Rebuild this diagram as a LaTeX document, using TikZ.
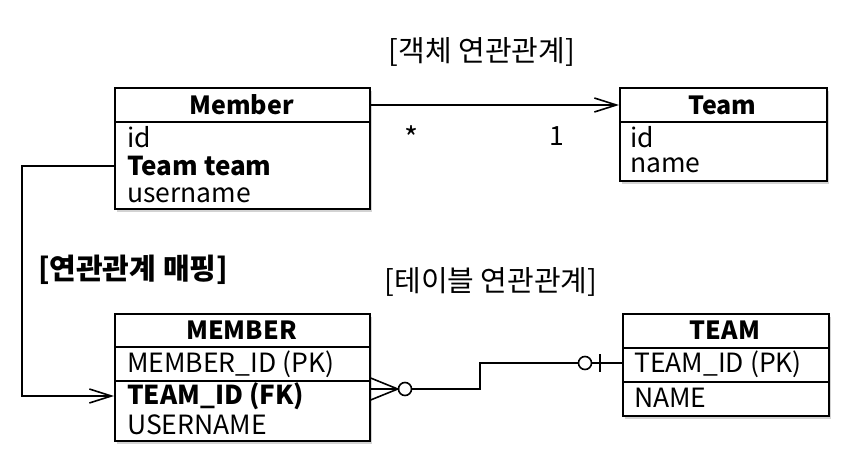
\documentclass[tikz,border=0pt]{standalone}
\usepackage{fontspec}
\setmainfont{Noto Sans CJK KR}
\usetikzlibrary{arrows.meta,shadows}
\begin{document}
\begin{tikzpicture}[x=1pt,y=-1pt,
  tbl/.style={draw, line width=1.6pt, fill=white, inner sep=0pt, anchor=north west,
    drop shadow={shadow xshift=2pt, shadow yshift=-3pt, opacity=0.35}},
  sep/.style={line width=1.6pt},
  row/.style={anchor=west, inner sep=0pt, font=\fontsize{26.5}{26.5}\selectfont},
  brow/.style={anchor=west, inner sep=0pt, font=\fontsize{26}{26}\selectfont\bfseries},
  head/.style={inner sep=0pt, font=\fontsize{25}{25}\selectfont\bfseries},
  lbl/.style={inner sep=0pt, font=\fontsize{29}{29}\selectfont},
  blbl/.style={inner sep=0pt, font=\fontsize{29}{29}\selectfont\bfseries},
  conn/.style={line width=1.6pt},
  barb/.style={-{Straight Barb[length=22pt,width=14pt,line width=1.6pt]}},
  ring/.style={circle, draw, line width=1.6pt, fill=white, minimum size=13pt, inner sep=0pt}
]
\useasboundingbox (0,0) rectangle (844,464);

% Member (object)
\node[tbl, minimum width=255pt, minimum height=121pt] (member) at (114,87) {};
\draw[sep] ([yshift=-35pt]member.north west) -- ([yshift=-35pt]member.north east);
\node[head] (memberh) at (241.5,105) {Member};
\node[row]  (mid)   at (127,137) {id};
\node[brow] (mteam) at (127,166) {Team team};
\node[row]  (muser) at (127,195) {username};

% Team (object)
\node[tbl, minimum width=207pt, minimum height=93pt] (team) at (619,87) {};
\draw[sep] ([yshift=-35pt]team.north west) -- ([yshift=-35pt]team.north east);
\node[head] (teamh) at (722.5,105) {Team};
\node[row] (tid)   at (630,137) {id};
\node[row] (tname) at (630,165) {name};

% MEMBER (table)
\node[tbl, minimum width=255pt, minimum height=127pt] (MEMBER) at (114,313) {};
\draw[sep] ([yshift=-34pt]MEMBER.north west) -- ([yshift=-34pt]MEMBER.north east);
\draw[sep] ([yshift=-68pt]MEMBER.north west) -- ([yshift=-68pt]MEMBER.north east);
\node[head] (MEMBERh) at (241.5,330) {MEMBER};
\node[row]  (Mid)   at (127,364) {MEMBER\_ID (PK)};
\node[brow] (Mfk)   at (127,396) {TEAM\_ID (FK)};
\node[row]  (Muser) at (127,425) {USERNAME};

% TEAM (table)
\node[tbl, minimum width=206pt, minimum height=102pt] (TEAM) at (622,313) {};
\draw[sep] ([yshift=-35pt]TEAM.north west) -- ([yshift=-35pt]TEAM.north east);
\draw[sep] ([yshift=-69pt]TEAM.north west) -- ([yshift=-69pt]TEAM.north east);
\node[head] (TEAMh) at (725,330) {TEAM};
\node[row] (Tid)   at (634,364) {TEAM\_ID (PK)};
\node[row] (Tname) at (634,398) {NAME};

% labels
\node[lbl]  (l1) at (482,52)  {[객체 연관관계]};
\node[lbl]  (l2) at (491,282) {[테이블 연관관계]};
\node[blbl] (l3) at (133,270) {[연관관계 매핑]};
\node[inner sep=0pt, font=\fontsize{30}{30}\selectfont] (many) at (412,138) {*};
\node[row, anchor=center] (one)  at (557,136) {1};

% object association
\draw[conn,barb] (memberh -| member.east) -- (memberh -| team.west);

% mapping connector
\coordinate (lbend) at (22,0);
\draw[conn,barb] (mteam -| member.west) -- (mteam -| lbend) -- (Mfk -| lbend) -- (Mfk -| MEMBER.west);

% ER relationship
\coordinate (cfy) at (0,389);
\node[ring] (c1) at (405,389) {};
\node[ring] (c2) at (585,363) {};
\draw[conn] ([yshift=11pt]cfy -| MEMBER.east) -- (c1.west) -- ([yshift=-11pt]cfy -| MEMBER.east);
\draw[conn] (cfy -| MEMBER.east) -- (c1.west);
\coordinate (ebend) at (480,0);
\draw[conn] (c1.east) -- (c1 -| ebend) -- (c2 -| ebend) -- (c2.west);
\draw[conn] (c2.east) -- (c2 -| TEAM.west);
\draw[conn] ([yshift=9pt]c2.center -| 600,0) -- ([yshift=-9pt]c2.center -| 600,0);
\end{tikzpicture}
\end{document}
